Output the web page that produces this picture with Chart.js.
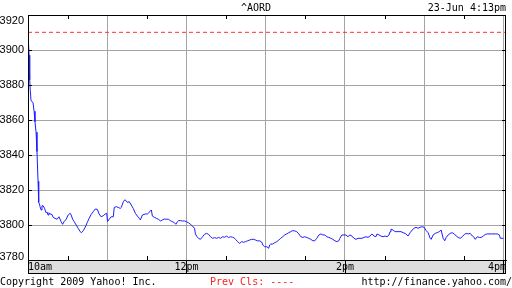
<!DOCTYPE html>
<html>
<head>
<meta charset="utf-8">
<script src="https://cdn.jsdelivr.net/npm/chart.js@4.4.1/dist/chart.umd.min.js"></script>
<style>
  html, body { margin: 0; padding: 0; background: #fff; }
</style>
</head>
<body>
<canvas id="chart" width="512" height="288"></canvas>
<script>
// ^AORD intraday, minutes after 10:00 and index level
const minutes = [
  0, 0.8, 1.3, 1.7, 2.3, 3.8, 4.6, 5.3, 6.1, 6.8,
  7.6, 8.1, 8.9, 9.1, 9.9, 10.6, 11.4, 12.5, 13.7, 14.4,
  15.2, 15.9, 16.7, 18.2, 19.0, 20.5, 22.0, 23.5, 25.1, 26.2,
  27.3, 28.9, 30.4, 31.9, 32.7, 33.8, 34.9, 36.5, 38.0, 39.5,
  40.5, 41.8, 43.3, 44.8, 46.3, 47.8, 49.4, 50.9, 52.4, 53.9,
  55.4, 57.0, 58.5, 59.6, 60.2, 61.5, 63.0, 64.6, 65.3, 66.8,
  68.4, 69.9, 70.6, 72.2, 73.3, 74.4, 75.2, 76.7, 78.2, 79.7,
  81.3, 82.8, 84.3, 85.1, 86.6, 88.9, 90.4, 92.3, 93.4, 94.2,
  95.7, 97.2, 98.7, 100.3, 101.8, 103.3, 104.8, 106.3, 107.8, 109.4,
  110.9, 112.0, 113.2, 113.9, 115.4, 117.0, 118.5, 120.0, 121.5, 123.0,
  124.6, 126.1, 126.8, 128.0, 129.1, 130.6, 132.2, 133.7, 135.2, 136.7,
  138.2, 139.7, 141.3, 142.8, 144.3, 145.8, 147.3, 148.9, 150.4, 151.9,
  153.4, 154.9, 156.5, 157.2, 158.7, 160.3, 161.8, 163.3, 164.8, 166.3,
  167.8, 169.4, 170.9, 172.4, 173.9, 175.4, 177.0, 178.1, 179.2, 180.8,
  182.3, 183.0, 183.8, 185.3, 186.8, 188.4, 189.9, 191.4, 192.9, 194.4,
  195.9, 197.5, 199.0, 200.5, 202.0, 203.5, 205.1, 206.6, 208.1, 209.6,
  211.1, 212.7, 214.2, 215.7, 217.2, 218.7, 220.3, 221.8, 223.3, 224.8,
  226.3, 227.8, 229.4, 230.9, 232.4, 233.9, 235.4, 236.2, 237.7, 239.2,
  240.8, 242.3, 243.8, 245.3, 246.8, 248.4, 249.9, 251.4, 252.9, 254.4,
  255.9, 257.5, 259.0, 260.5, 262.0, 263.5, 264.3, 265.8, 267.3, 268.9,
  270.4, 271.9, 273.4, 274.2, 274.9, 276.5, 278.0, 279.5, 281.0, 282.5,
  284.1, 285.6, 287.1, 287.8, 289.4, 290.9, 292.4, 293.9, 295.4, 297.0,
  298.5, 300.0, 301.5, 303.0, 304.6, 305.3, 306.8, 308.4, 309.9, 311.4,
  312.9, 314.4, 315.6, 316.7, 318.2, 319.7, 321.3, 322.8, 324.3, 325.8,
  327.3, 328.9, 330.4, 331.9, 333.4, 334.9, 336.5, 338.0, 338.7, 340.3,
  341.8, 343.3, 344.8, 346.3, 347.8, 351.1, 353.9, 355.4, 357.0, 357.7,
  360.0
];
const prices = [
  3910, 3897, 3883, 3877, 3871, 3870, 3865, 3859, 3853, 3842,
  3825, 3813, 3811.4, 3810.5, 3808.6, 3811, 3811, 3809.6, 3807, 3807.4,
  3805.7, 3807, 3806.3, 3806, 3804.4, 3803.8, 3803.3, 3804.7, 3801.9, 3800.4,
  3801.9, 3803.3, 3805.7, 3806.7, 3805.7, 3803.3, 3802, 3800, 3798.1, 3796.2,
  3795.6, 3796.7, 3798.7, 3801.3, 3803.8, 3806, 3807.6, 3809.1, 3809, 3806.3,
  3804.7, 3805.3, 3806.3, 3806.7, 3802, 3803.3, 3804.7, 3804.7, 3810, 3810.5,
  3810, 3809.5, 3810, 3813.3, 3814.4, 3813.8, 3812.9, 3813.3, 3811.4, 3809.5,
  3806.7, 3805.1, 3803.8, 3802.9, 3805.7, 3806.3, 3806.3, 3807.6, 3808.6, 3805.1,
  3804.4, 3803.8, 3803.3, 3802.3, 3802.9, 3803.4, 3803.3, 3803.3, 3802.5, 3801.9,
  3801.3, 3800.4, 3801.9, 3802.5, 3802.5, 3802.3, 3802.3, 3801.9, 3801.3, 3800.4,
  3799.4, 3798.1, 3794.9, 3793.3, 3792.4, 3791.8, 3793.3, 3794.7, 3795.2, 3794.7,
  3793.3, 3792.4, 3792.8, 3792.4, 3792.9, 3792.4, 3793.3, 3793, 3793.7, 3792.8,
  3793.3, 3793, 3792.4, 3791.8, 3790.5, 3789.5, 3790.5, 3790.1, 3790.5, 3791,
  3791.4, 3791.8, 3791.8, 3791.4, 3790.9, 3791, 3790.2, 3788.3, 3787.6, 3787.6,
  3786.7, 3788.6, 3789.1, 3789.1, 3789.9, 3790.5, 3791.4, 3792.4, 3793.3, 3794.3,
  3794.9, 3795.6, 3796.2, 3796.8, 3796.6, 3796.2, 3794.9, 3793.3, 3792.9, 3793.3,
  3792.9, 3792.4, 3791.8, 3791, 3791, 3792.4, 3794.3, 3794.9, 3794.3, 3794.3,
  3793.3, 3792.9, 3792.4, 3791.8, 3791, 3790.5, 3791, 3792.4, 3794.3, 3794.3,
  3794.3, 3793.3, 3794.3, 3793.7, 3792.4, 3791.8, 3792.4, 3792.4, 3792.4, 3792.9,
  3793.3, 3792.9, 3793.7, 3794.9, 3793.7, 3793.3, 3794.9, 3794.3, 3793.7, 3793.3,
  3793.7, 3793.3, 3794.3, 3796.2, 3797.6, 3797.1, 3796.2, 3796.2, 3796.2, 3796.2,
  3795.6, 3795.2, 3794.3, 3793.7, 3795.6, 3797.1, 3798.1, 3798.7, 3798.1, 3798.7,
  3799, 3798.7, 3796.8, 3795.6, 3792.4, 3791.8, 3794.3, 3795.2, 3795.6, 3796.2,
  3797.1, 3792.4, 3791, 3792.9, 3794.3, 3795.2, 3795.6, 3794.9, 3793.7, 3792.9,
  3792.4, 3793.3, 3794.6, 3795.2, 3794.9, 3795.2, 3793.7, 3792.9, 3791.8, 3793.3,
  3792.9, 3792.9, 3793.7, 3794.6, 3794.9, 3794.9, 3794.9, 3794.9, 3794.3, 3792.4,
  3792.4
];
const prevClose = 3910.1;

const xLabels = ['10am', '12pm', '2pm', '4pm'];
const xLabelMinutes = [0, 120, 240, 360];
const hourMinutes = [0, 60, 120, 180, 240, 300, 360];
const halfHourMinutes = [30, 90, 150, 210, 270, 330];
const yMin = 3780, yMax = 3920, yStep = 20;

const symbol = '^AORD';
const stamp = '23-Jun 4:13pm';
const copyright = 'Copyright 2009 Yahoo! Inc.';
const prevText = 'Prev Cls: ----';
const site = 'http://finance.yahoo.com/';

const mono = '10px "DejaVu Sans Mono", monospace';
const sans = '11px "Liberation Sans", Arial, sans-serif';
const gridGray = '#a4a4a4';

const yahooFrame = {
  id: 'yahooFrame',
  afterDraw(chart) {
    const ctx = chart.ctx;
    const a = chart.chartArea;
    const xs = chart.scales.x;
    const ys = chart.scales.y;
    const bandH = 13;

    ctx.save();
    // time band under the plot
    ctx.fillStyle = '#dedede';
    ctx.fillRect(a.left, a.bottom, a.right - a.left, bandH);
    ctx.strokeStyle = '#000';
    ctx.lineWidth = 1;
    ctx.strokeRect(a.left + 0.5, a.bottom + 0.5, a.right - a.left - 1, bandH);
    // plot frame
    ctx.strokeRect(a.left + 0.5, a.top + 0.5, a.right - a.left - 1, a.bottom - a.top);

    // half hour ticks, top and bottom
    ctx.beginPath();
    halfHourMinutes.forEach(m => {
      const x = Math.round(xs.getPixelForValue(m)) + 0.5;
      ctx.moveTo(x, a.top); ctx.lineTo(x, a.top + 4);
      ctx.moveTo(x, a.bottom - 4); ctx.lineTo(x, a.bottom);
    });
    // level ticks on both sides
    for (let v = yMin + yStep; v < yMax; v += yStep) {
      const y = Math.round(ys.getPixelForValue(v)) + 0.5;
      ctx.moveTo(a.left, y); ctx.lineTo(a.left + 4, y);
      ctx.moveTo(a.right - 4, y); ctx.lineTo(a.right, y);
    }
    // label ticks inside the band
    xLabelMinutes.forEach(m => {
      const x = Math.round(xs.getPixelForValue(m)) + 0.5;
      ctx.moveTo(x, a.bottom); ctx.lineTo(x, a.bottom + bandH);
    });
    ctx.stroke();

    // level labels, kept inside the plot height at both ends
    ctx.font = sans;
    ctx.textBaseline = 'middle';
    ctx.textAlign = 'right';
    ctx.fillStyle = '#000';
    for (let v = yMin; v <= yMax; v += yStep) {
      let y = ys.getPixelForValue(v);
      y = Math.min(Math.max(y, a.top + 6), a.bottom - 3);
      ctx.fillText(String(v), a.left - 4, y);
    }

    ctx.font = mono;
    xLabels.forEach((lab, i) => {
      const x = xs.getPixelForValue(xLabelMinutes[i]);
      if (i === 0) {
        ctx.textAlign = 'left';
        ctx.fillText(lab, a.left, a.bottom + 7);
      } else if (i === xLabels.length - 1) {
        ctx.textAlign = 'right';
        ctx.fillText(lab, a.right, a.bottom + 7);
      } else {
        ctx.textAlign = 'center';
        ctx.fillText(lab, x, a.bottom + 7);
      }
    });

    // header
    ctx.textAlign = 'center';
    ctx.fillText(symbol, 256, 8);
    ctx.textAlign = 'right';
    ctx.fillText(stamp, 506, 8);

    // footer
    ctx.textAlign = 'left';
    ctx.fillText(copyright, 0, 282);
    ctx.fillStyle = '#ff2020';
    ctx.fillText(prevText, 210, 282);
    ctx.fillStyle = '#000';
    ctx.textAlign = 'right';
    ctx.fillText(site, 512, 282);
    ctx.restore();
  }
};

const priceData = minutes.map((m, i) => ({ x: m, y: prices[i] }));

new Chart(document.getElementById('chart'), {
  type: 'line',
  data: {
    datasets: [
      {
        data: priceData,
        borderColor: '#1c1cff',
        borderWidth: 1,
        pointRadius: 0,
        tension: 0,
      },
      {
        data: [{ x: 0, y: prevClose }, { x: 362, y: prevClose }],
        borderColor: '#ff3030',
        borderWidth: 1,
        borderDash: [4, 3],
        pointRadius: 0,
      }
    ]
  },
  options: {
    responsive: false,
    animation: false,
    devicePixelRatio: 1,
    layout: { padding: { top: 15, right: 6, bottom: 15, left: 0 } },
    plugins: {
      legend: { display: false },
      tooltip: { enabled: false },
    },
    scales: {
      x: {
        type: 'linear',
        min: 0,
        max: 362,
        afterBuildTicks: s => { s.ticks = hourMinutes.map(v => ({ value: v })); },
        afterFit: s => { s.height = 13; },
        ticks: { display: false },
        grid: { color: gridGray, drawTicks: false },
        border: { color: '#000' },
      },
      y: {
        min: yMin,
        max: yMax,
        afterFit: s => { s.width = 28; },
        ticks: { stepSize: yStep, display: false },
        grid: { color: gridGray, drawTicks: false },
        border: { color: '#000' },
      }
    }
  },
  plugins: [yahooFrame]
});
</script>
</body>
</html>
